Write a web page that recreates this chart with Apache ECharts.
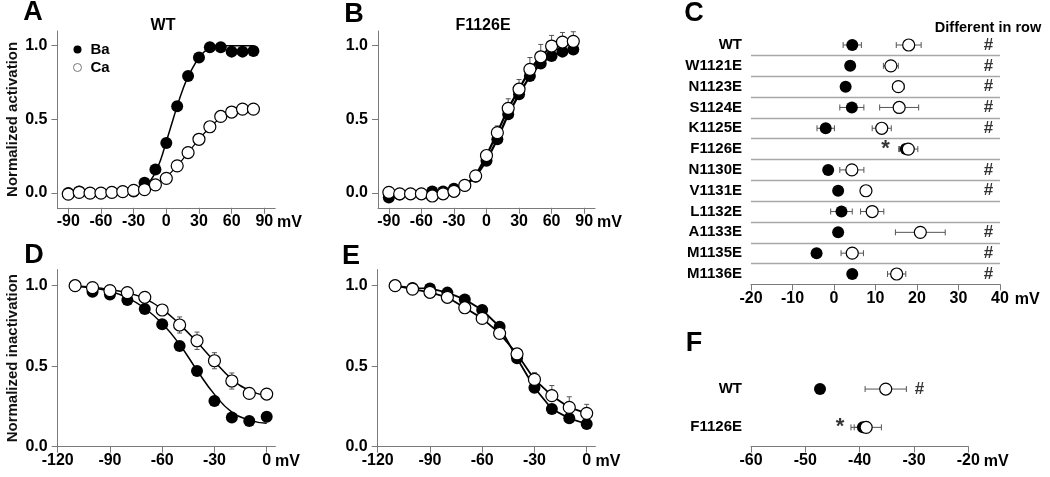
<!DOCTYPE html>
<html><head><meta charset="utf-8">
<script src="https://cdn.jsdelivr.net/npm/echarts@6/dist/echarts.min.js"></script>
<style>html,body{margin:0;padding:0;background:#fff}#c{width:1050px;height:477px}</style>
</head><body><div id="c"></div>
<script>
// ---------- Panel A (WT activation) ----------
const vAct = [-90,-80,-70,-60,-50,-40,-30,-20,-10,0,10,20,30,40,50,60,70,80];
const baA = [0.0,0.01,0.0,0.0,0.005,0.01,0.01,0.07,0.16,0.34,0.59,0.795,0.92,0.99,0.99,0.96,0.96,0.965];
const caA = [-0.007,0.005,0.0,0.0,0.005,0.01,0.018,0.023,0.056,0.10,0.185,0.275,0.365,0.45,0.52,0.55,0.57,0.57];
const vFitBaA = [-25,-20,-15,-10,-5,0,5,10,15,20,25,30,35,40,50,60,70,80];
const baFitA = [0.02,0.04,0.08,0.14,0.23,0.35,0.47,0.59,0.70,0.79,0.86,0.92,0.96,0.985,1.0,1.0,1.0,1.0];
const vFitCaA = [-30,-20,-10,0,10,20,30,40,50,60,70,80];
const caFitA = [0.015,0.03,0.06,0.11,0.185,0.275,0.365,0.445,0.51,0.55,0.565,0.57];
// ---------- Panel B (F1126E activation) ----------
const baB = [-0.03,-0.01,-0.005,-0.005,0.01,0.01,0.03,0.05,0.11,0.22,0.365,0.535,0.67,0.795,0.88,0.93,0.96,0.975];
const caB = [0.005,-0.005,-0.005,-0.005,-0.02,-0.005,0.012,0.052,0.117,0.255,0.41,0.575,0.705,0.84,0.925,0.998,1.025,1.03];
const caBErr = [0,0,0,0,0,0,0,0,0,0.01,0.046,0.065,0.066,0.08,0.084,0.072,0.065,0.065];
// ---------- Panel D (WT inactivation) ----------
const vInact = [-110,-100,-90,-80,-70,-60,-50,-40,-30,-20,-10,0];
const baD = [1.0,0.963,0.946,0.911,0.855,0.76,0.625,0.47,0.284,0.182,0.159,0.186];
const caD = [1.0,0.988,0.969,0.957,0.928,0.849,0.756,0.658,0.534,0.408,0.331,0.327];
const caDErr = [0,0,0,0,0.01,0.033,0.05,0.054,0.05,0.05,0.01,0.01];
const baFitD = [0.995,0.985,0.965,0.925,0.86,0.765,0.635,0.475,0.325,0.215,0.165,0.145];
const caFitD = [1.0,0.99,0.975,0.955,0.92,0.855,0.76,0.65,0.53,0.42,0.35,0.315];
// ---------- Panel E (F1126E inactivation) ----------
const baE = [1.0,0.985,0.983,0.957,0.915,0.849,0.745,0.549,0.366,0.234,0.176,0.141];
const caE = [1.0,0.979,0.959,0.928,0.863,0.797,0.704,0.576,0.418,0.317,0.244,0.207];
const caEErr = [0,0,0,0,0,0,0,0,0.042,0.063,0.066,0.056];
// ---------- Panel C (activation V1/2 per mutant) ----------
const catsC = ['WT','W1121E','N1123E','S1124E','K1125E','F1126E','N1130E','V1131E','L1132E','A1133E','M1135E','M1136E'];
const baC = [4.4,3.9,2.8,4.3,-2.0,17.3,-1.4,1.0,1.8,1.0,-4.2,4.4];
const baCErr = [2.2,0.5,0.5,2.9,2.1,1.5,0.5,0.5,2.6,0.5,0.5,1.0];
const caC = [18.0,13.7,15.5,15.7,11.5,17.9,4.3,7.7,9.2,20.8,4.4,15.1];
const caCErr = [3.0,1.8,1.4,4.7,2.3,2.3,2.9,1.0,2.8,6.0,2.7,2.2];
const diffC = [1,1,1,1,1,0,1,1,0,1,1,1];
const starC = [0,0,0,0,0,1,0,0,0,0,0,0];
// ---------- Panel F (inactivation V1/2) ----------
const catsF = ['WT','F1126E'];
const baF = [-47.3,-39.4];
const baFErr = [0.5,1.6];
const caF = [-35.2,-38.8];
const caFErr = [3.8,2.8];
const diffF = [1,0];
const starF = [0,1];
// tick labels
const xTicksAct = [-90,-60,-30,0,30,60,90];
const xTicksInact = [-120,-90,-60,-30,0];
const xTicksC = [-20,-10,0,10,20,30,40];
const xTicksF = [-60,-50,-40,-30,-20];
const yTicks = [0,0.5,1.0];

const FF = '"Liberation Sans", Arial, sans-serif';
const zip = (xs, ys) => xs.map((x,i)=>[x, ys[i]]);
const axisCol = '#7a7a7a';

function valX(gi, min, max, ticks, gap){
  return {type:'value', gridIndex:gi, min, max, splitLine:{show:false},
    axisLine:{show:true, onZero:false, lineStyle:{color:axisCol, width:1}},
    axisTick:{show:true, length:6, lineStyle:{color:axisCol}, customValues:ticks},
    axisLabel:{show:true, color:'#000', fontFamily:FF, fontWeight:'bold', fontSize:16, margin:6, customValues:ticks},
    name:'mV', nameLocation:'end', nameGap:gap,
    nameTextStyle:{color:'#000', fontFamily:FF, fontWeight:'bold', fontSize:16, verticalAlign:'top', padding:[7,0,0,0]}};
}
function valY(gi, min, max, name){
  return {type:'value', gridIndex:gi, min, max, splitLine:{show:false},
    axisLine:{show:true, onZero:false, lineStyle:{color:axisCol, width:1}},
    axisTick:{show:true, length:6, lineStyle:{color:axisCol}, customValues:yTicks},
    axisLabel:{show:true, color:'#000', fontFamily:FF, fontWeight:'bold', fontSize:16, margin:10,
      customValues:yTicks, formatter:v=>v.toFixed(1)},
    name: name || '', nameLocation:'middle', nameGap:37,
    nameTextStyle:{color:'#111', fontFamily:FF, fontSize:15, fontWeight:'bold'}};
}
function catY(gi, cats, split){
  return {type:'category', gridIndex:gi, data:cats, inverse:true,
    axisLine:{show:false}, axisTick:{show:false},
    axisLabel:{color:'#000', fontFamily:FF, fontWeight:'bold', fontSize:15, margin:9, interval:0},
    splitLine:{show:split, interval:0, showMinLine:false, showMaxLine:false, lineStyle:{color:'#a8a8a8', width:1.3}}};
}

function vErrItem(params, api){
  const x = api.value(0), lo = api.value(1), hi = api.value(2);
  const p1 = api.coord([x, lo]), p2 = api.coord([x, hi]);
  const c = 2.5, st = {stroke:'#555', lineWidth:1};
  return {type:'group', children:[
    {type:'line', shape:{x1:p1[0],y1:p1[1],x2:p2[0],y2:p2[1]}, style:st},
    {type:'line', shape:{x1:p1[0]-c,y1:p1[1],x2:p1[0]+c,y2:p1[1]}, style:st},
    {type:'line', shape:{x1:p2[0]-c,y1:p2[1],x2:p2[0]+c,y2:p2[1]}, style:st}]};
}
function hErrItem(params, api){
  const lo = api.value(0), hi = api.value(1), y = api.value(2);
  const p1 = api.coord([lo, y]), p2 = api.coord([hi, y]);
  const c = 3, st = {stroke:'#555', lineWidth:1};
  return {type:'group', children:[
    {type:'line', shape:{x1:p1[0],y1:p1[1],x2:p2[0],y2:p2[1]}, style:st},
    {type:'line', shape:{x1:p1[0],y1:p1[1]-c,x2:p1[0],y2:p1[1]+c}, style:st},
    {type:'line', shape:{x1:p2[0],y1:p2[1]-c,x2:p2[0],y2:p2[1]+c}, style:st}]};
}
const vErrData = (xs, ys, up, down) => xs.map((x,i)=>[x, ys[i]-(down?up[i]:0), ys[i]+up[i]]).filter((d,i)=>up[i]>0);
const hErrData = (xs, es) => xs.map((x,i)=>[x-es[i], x+es[i], i]);

const filled = {color:'#000', opacity:1};
const open = {color:'#fff', borderColor:'#000', borderWidth:1.2, opacity:1};
function sc(name, xi, data, style, size, z){
  return {type:'scatter', name, xAxisIndex:xi, yAxisIndex:xi, data, symbol:'circle', symbolSize:size||12,
    itemStyle:style, z:z||3, emphasis:{disabled:true}, silent:true};
}
function ln(xi, data, w, smooth){
  return {type:'line', xAxisIndex:xi, yAxisIndex:xi, data, showSymbol:false, symbol:'none', smooth:!!smooth,
    lineStyle:{color:'#000', width:w}, z:2, silent:true};
}
function errSeries(xi, data, fn){
  return {type:'custom', xAxisIndex:xi, yAxisIndex:xi, data, renderItem:fn, z:1, silent:true,
    encode: fn===vErrItem ? {x:0, y:[1,2]} : {x:[0,1], y:2}};
}
function marks(xi, flags, xval, text, size){
  const d = []; flags.forEach((f,i)=>{ if(f) d.push([xval, i]); });
  return {type:'scatter', xAxisIndex:xi, yAxisIndex:xi, data:d, symbolSize:1, itemStyle:{color:'transparent'},
    label:{show:true, position:'inside', formatter:text, color:'#000', fontFamily:FF, fontWeight:'bold', fontSize:size},
    z:5, silent:true};
}
const hashXC = 37.2, starXC = 12.4, hashXF = -29.0, starXF = -43.6;
const T = (text, x, y, size) => ({type:'text', x, y, style:{text, font:'bold '+size+'px '+FF, fill:'#000',
  align:'center', verticalAlign:'middle', textAlign:'center', textVerticalAlign:'middle'}});

const option = {
  animation:false, backgroundColor:'#fff',
  textStyle:{fontFamily:FF},
  grid:[
    {left:57.4, top:31, width:217.8, height:176.8},
    {left:378, top:31, width:217, height:176.8},
    {left:57.7, top:269.6, width:217.7, height:177.1},
    {left:377.7, top:269.6, width:217.7, height:177.1},
    {left:751, top:34.6, width:249, height:249.8},
    {left:751, top:369.9, width:217.3, height:76.6}
  ],
  xAxis:[
    valX(0,-100,100,xTicksAct,1),
    valX(1,-100,100,xTicksAct,1),
    valX(2,-120,5,xTicksInact,-2),
    valX(3,-120,5,xTicksInact,0),
    valX(4,-20,40,xTicksC,10),
    valX(5,-60,-20,xTicksF,13)
  ],
  yAxis:[
    valY(0,-0.1,1.1,'Normalized activation'),
    valY(1,-0.1,1.1),
    valY(2,0,1.1,'Normalized inactivation'),
    valY(3,0,1.1),
    catY(4,catsC,true),
    catY(5,catsF,false)
  ],
  legend:{show:true, orient:'vertical', left:68, top:37, itemWidth:8, itemHeight:8, itemGap:3, selectedMode:false,
    textStyle:{color:'#000', fontFamily:FF, fontWeight:'bold', fontSize:15, padding:[0,0,0,4]},
    data:[{name:'Ba', icon:'circle', itemStyle:{color:'#000', borderWidth:0}},
          {name:'Ca', icon:'circle', itemStyle:{color:'#fff', borderColor:'#777', borderWidth:1}}]},
  graphic:[
    T('A',33,13,27), T('B',354,15,27), T('C',694,14,27), T('D',34,256,27), T('E',351,257,27), T('F',694,344,27),
    T('WT',163,26,16), T('F1126E',483,26,16), T('Different in row',988,28,14.5)
  ],
  series:[
    // A
    ln(0, zip(vFitBaA, baFitA), 1.5, true),
    ln(0, zip(vFitCaA, caFitA), 1.2, true),
    sc('Ba', 0, zip(vAct, baA), filled),
    sc('Ca', 0, zip(vAct, caA), open, 12, 4),
    // B
    errSeries(1, vErrData(vAct, caB, caBErr, false), vErrItem),
    ln(1, zip(vAct, baB), 2.2),
    ln(1, zip(vAct, caB), 2.2),
    sc('Ba F', 1, zip(vAct, baB), filled),
    sc('Ca F', 1, zip(vAct, caB), open, 12, 4),
    // D
    errSeries(2, vErrData(vInact, caD, caDErr, true), vErrItem),
    ln(2, zip(vInact, baFitD), 1.5, true),
    ln(2, zip(vInact, caFitD), 1.5, true),
    sc('Ba D', 2, zip(vInact, baD), filled),
    sc('Ca D', 2, zip(vInact, caD), open, 12, 4),
    // E
    errSeries(3, vErrData(vInact, caE, caEErr, false), vErrItem),
    ln(3, zip(vInact, baE), 1.8),
    ln(3, zip(vInact, caE), 1.8),
    sc('Ba E', 3, zip(vInact, baE), filled),
    sc('Ca E', 3, zip(vInact, caE), open, 12, 4),
    // C
    errSeries(4, hErrData(baC, baCErr), hErrItem),
    errSeries(4, hErrData(caC, caCErr), hErrItem),
    sc('Ba C', 4, baC.map((v,i)=>[v,i]), filled, 12),
    sc('Ca C', 4, caC.map((v,i)=>[v,i]), open, 12, 4),
    marks(4, diffC, hashXC, '#', 17),
    marks(4, starC, starXC, '*', 22),
    // F
    errSeries(5, hErrData(baF, baFErr), hErrItem),
    errSeries(5, hErrData(caF, caFErr), hErrItem),
    sc('Ba Fi', 5, baF.map((v,i)=>[v,i]), filled, 12),
    sc('Ca Fi', 5, caF.map((v,i)=>[v,i]), open, 12, 4),
    marks(5, diffF, hashXF, '#', 17),
    marks(5, starF, starXF, '*', 22)
  ]
};
const chart = echarts.init(document.getElementById('c'), null, {renderer:'canvas'});
chart.setOption(option);
</script></body></html>
